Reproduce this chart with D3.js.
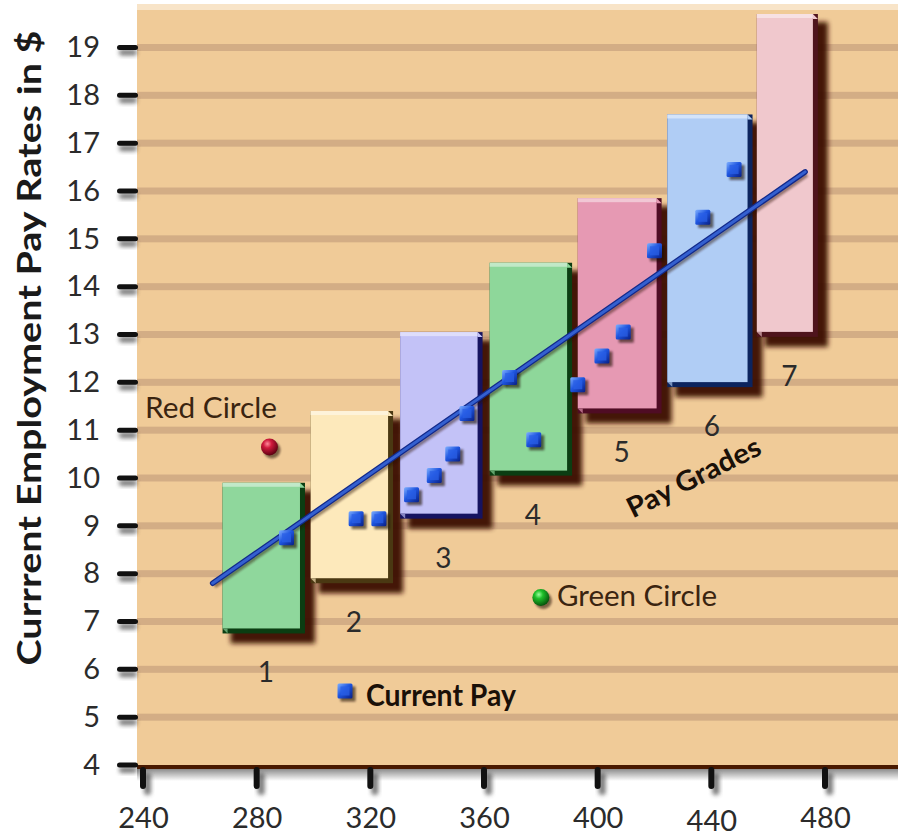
<!DOCTYPE html>
<html>
<head>
<meta charset="utf-8">
<script src="https://cdn.jsdelivr.net/npm/d3@7"></script>
<style>
  html, body { margin: 0; padding: 0; background: #ffffff; }
  svg { display: block; }
  text { font-family: Lato, "Open Sans", "Liberation Sans", sans-serif; }
</style>
</head>
<body>
<svg id="chart" width="898" height="838"></svg>
<script>
// ---- data ----
const yTicks = [4, 5, 6, 7, 8, 9, 10, 11, 12, 13, 14, 15, 16, 17, 18, 19];
const xTicks = [240, 280, 320, 360, 400, 440, 480];

const grades      = ["1", "2", "3", "4", "5", "6", "7"];
const gradeXStart = [268, 299, 330.5, 362, 393, 424.5, 456];
const gradeXEnd   = [297, 328, 359.5, 391, 422.5, 454.5, 477.5];
const gradeMin    = [6.75, 7.8, 9.15, 10.05, 11.35, 11.9, 12.95];
const gradeMax    = [9.9, 11.4, 13.05, 14.5, 15.85, 17.6, 19.7];

const payX = [290.5, 315, 323, 334.5, 342.5, 349, 354, 369, 377.5, 393, 401.5, 409, 420, 437, 448];
const payY = [8.75, 9.15, 9.15, 9.65, 10.05, 10.5, 11.35, 12.1, 10.8, 11.95, 12.55, 13.05, 14.75, 15.45, 16.45];

const trendX = [264.5, 473];
const trendY = [7.8, 16.4];

const redCircleXY   = [284.5, 10.65];
const greenCircleXY = [380, 7.5];

// ---- styles ----
const gradeFill = ["#8fd79c", "#fde9bb", "#c3c2f7", "#8ed79a", "#e699b3", "#b0cdf5", "#f0c8cd"];
const gradeEdge = ["#0b3d12", "#4a3812", "#161360", "#0b3d12", "#4f0c24", "#0c245e", "#4f141c"];

const W = 898, H = 838;
const plotLeft = 137, plotRight = 898, plotTop = 10, plotBottom = 765;

const x = d3.scaleLinear().domain([240, 480]).range([143, 825]);
const y = d3.scaleLinear().domain([4, 19]).range([765, 47.5]);

const svg = d3.select("#chart");
const defs = svg.append("defs");

function blurFilter(id, sd) {
  defs.append("filter").attr("id", id)
    .attr("x", "-50%").attr("y", "-50%").attr("width", "200%").attr("height", "200%")
    .append("feGaussianBlur").attr("stdDeviation", sd);
}
blurFilter("blurS", 1.2);
blurFilter("blurM", 2.2);
blurFilter("blurL", 2.6);

// gradient for the pay markers
const sq = defs.append("linearGradient").attr("id", "sqGrad")
  .attr("x1", "0").attr("y1", "0").attr("x2", "1").attr("y2", "1");
sq.append("stop").attr("offset", "0%").attr("stop-color", "#7fb0ff");
sq.append("stop").attr("offset", "45%").attr("stop-color", "#1f56e0");
sq.append("stop").attr("offset", "100%").attr("stop-color", "#081f86");

const red = defs.append("radialGradient").attr("id", "redGrad")
  .attr("cx", "38%").attr("cy", "32%").attr("r", "70%");
red.append("stop").attr("offset", "0%").attr("stop-color", "#ff8a9a");
red.append("stop").attr("offset", "35%").attr("stop-color", "#d01a3c");
red.append("stop").attr("offset", "100%").attr("stop-color", "#5a0010");

const green = defs.append("radialGradient").attr("id", "greenGrad")
  .attr("cx", "38%").attr("cy", "32%").attr("r", "70%");
green.append("stop").attr("offset", "0%").attr("stop-color", "#9cff9c");
green.append("stop").attr("offset", "35%").attr("stop-color", "#1fbf2a");
green.append("stop").attr("offset", "100%").attr("stop-color", "#05500a");

const bottomShade = defs.append("linearGradient").attr("id", "bottomShade")
  .attr("x1", "0").attr("y1", "0").attr("x2", "0").attr("y2", "1");
bottomShade.append("stop").attr("offset", "0%").attr("stop-color", "#000").attr("stop-opacity", 0.45);
bottomShade.append("stop").attr("offset", "100%").attr("stop-color", "#000").attr("stop-opacity", 0);

// ---- plot background ----
svg.append("rect").attr("x", plotLeft).attr("y", plotTop - 6)
  .attr("width", plotRight - plotLeft).attr("height", 6).attr("fill", "#f8e4c8");
svg.append("rect").attr("x", plotLeft).attr("y", plotTop)
  .attr("width", plotRight - plotLeft).attr("height", plotBottom - plotTop).attr("fill", "#f0cb98");

// horizontal bands at every value
svg.append("g").selectAll("rect")
  .data(yTicks.filter(v => v > 4))
  .join("rect")
  .attr("x", plotLeft).attr("width", plotRight - plotLeft)
  .attr("y", d => y(d) - 3.5).attr("height", 7)
  .attr("fill", "#d3ad85");

// bottom edge and its shade
svg.append("rect").attr("x", plotLeft).attr("y", plotBottom + 4)
  .attr("width", plotRight - plotLeft).attr("height", 12).attr("fill", "url(#bottomShade)");
svg.append("rect").attr("x", plotLeft).attr("y", plotBottom)
  .attr("width", plotRight - plotLeft).attr("height", 4).attr("fill", "#4a1a00");

// ---- tick marks ----
const yTickG = svg.append("g");
yTickG.selectAll("rect.sh").data(yTicks).join("rect").attr("class", "sh")
  .attr("x", 119).attr("y", d => y(d) + 2).attr("width", 18).attr("height", 6).attr("rx", 3)
  .attr("fill", "#444").attr("opacity", 0.7).attr("filter", "url(#blurM)");
yTickG.selectAll("rect.tk").data(yTicks).join("rect").attr("class", "tk")
  .attr("x", 117).attr("y", d => y(d) - 2.5).attr("width", 21).attr("height", 5).attr("rx", 2.5)
  .attr("fill", "#111");

const xTickG = svg.append("g");
xTickG.selectAll("rect.sh").data(xTicks).join("rect").attr("class", "sh")
  .attr("x", d => x(d) + 1).attr("y", plotBottom + 8).attr("width", 7).attr("height", 22).attr("rx", 3)
  .attr("fill", "#444").attr("opacity", 0.7).attr("filter", "url(#blurM)");
xTickG.selectAll("rect.tk").data(xTicks).join("rect").attr("class", "tk")
  .attr("x", d => x(d) - 3).attr("y", plotBottom + 2).attr("width", 6).attr("height", 22).attr("rx", 3)
  .attr("fill", "#111");

// ---- axes labels ----
const yAxis = d3.axisLeft(y).tickValues(yTicks).tickSize(0).tickPadding(37).tickFormat(d3.format("d"));
const yAxisG = svg.append("g").attr("transform", `translate(${plotLeft},0)`).call(yAxis);
yAxisG.select(".domain").remove();
yAxisG.selectAll("text").attr("font-size", 29).attr("fill", "#2b2b2b")
  .attr("font-family", "Lato, 'Open Sans', sans-serif");

const xAxis = d3.axisBottom(x).tickValues(xTicks).tickSize(0).tickPadding(42).tickFormat(d3.format("d"));
const xAxisG = svg.append("g").attr("transform", `translate(0,${plotBottom})`).call(xAxis);
xAxisG.select(".domain").remove();
xAxisG.selectAll("text").attr("font-size", 29).attr("fill", "#2b2b2b")
  .attr("font-family", "Lato, 'Open Sans', sans-serif")
  .attr("dy", d => d === 440 ? "0.82em" : "0.71em");

svg.append("text")
  .attr("transform", "translate(41,348) rotate(-90)")
  .attr("text-anchor", "middle")
  .attr("font-size", 33).attr("font-weight", "bold").attr("fill", "#1a1a1a")
  .attr("textLength", 635).attr("lengthAdjust", "spacingAndGlyphs")
  .text("Currrent Employment Pay Rates in $");

// ---- pay grade bars ----
const bev = 5;
const barData = grades.map((g, i) => ({
  g, x0: gradeXStart[i], x1: gradeXEnd[i], lo: gradeMin[i], hi: gradeMax[i],
  fill: gradeFill[i], edge: gradeEdge[i]
}));

const barG = svg.append("g");
const bars = barG.selectAll("g").data(barData).join("g");

bars.append("rect")
  .attr("x", d => x(d.x0) + 8).attr("y", d => y(d.hi) + 8)
  .attr("width", d => x(d.x1) - x(d.x0) + 2).attr("height", d => y(d.lo) - y(d.hi) + 2)
  .attr("fill", "#3a1000").attr("opacity", 0.95).attr("filter", "url(#blurL)");

bars.append("rect")
  .attr("x", d => x(d.x0)).attr("y", d => y(d.hi))
  .attr("width", d => x(d.x1) - x(d.x0)).attr("height", d => y(d.lo) - y(d.hi))
  .attr("fill", d => d.edge);

bars.append("rect")
  .attr("x", d => x(d.x0)).attr("y", d => y(d.hi))
  .attr("width", d => x(d.x1) - x(d.x0) - bev).attr("height", d => y(d.lo) - y(d.hi) - bev)
  .attr("fill", d => d.fill);

// bevelled bottom-left corner and lighter top edge
bars.append("path")
  .attr("d", d => {
    const l = x(d.x0), b = y(d.lo);
    return `M${l},${b - bev}L${l + bev},${b - bev}L${l + bev},${b}Z`;
  })
  .attr("fill", d => d3.interpolateRgb(d.fill, d.edge)(0.35));
bars.append("rect")
  .attr("x", d => x(d.x0)).attr("y", d => y(d.hi))
  .attr("width", d => x(d.x1) - x(d.x0) - bev).attr("height", 4)
  .attr("fill", d => d3.interpolateRgb(d.fill, "#ffffff")(0.45));
bars.append("path")
  .attr("d", d => {
    const r = x(d.x1), t = y(d.hi);
    return `M${r - bev},${t}L${r},${t + bev}L${r - bev},${t + bev}Z`;
  })
  .attr("fill", d => d.fill);

bars.append("text")
  .attr("x", d => (x(d.x0) + x(d.x1)) / 2 + 2)
  .attr("y", d => y(d.lo) + 49)
  .attr("text-anchor", "middle")
  .attr("font-size", 28).attr("fill", "#2b2b2b")
  .text(d => d.g);

// ---- trend line ----
const line = d3.line().x(d => x(d[0])).y(d => y(d[1]));
const trend = trendX.map((v, i) => [v, trendY[i]]);
svg.append("path").datum(trend).attr("d", line)
  .attr("transform", "translate(2,3)")
  .attr("stroke", "#2a1000").attr("stroke-width", 4).attr("opacity", 0.45)
  .attr("fill", "none").attr("filter", "url(#blurS)");
svg.append("path").datum(trend).attr("d", line)
  .attr("stroke", "#12298a").attr("stroke-width", 5.5).attr("stroke-linecap", "round").attr("fill", "none");
svg.append("path").datum(trend).attr("d", line)
  .attr("stroke", "#3460d0").attr("stroke-width", 3).attr("stroke-linecap", "round").attr("fill", "none");

// ---- current pay markers ----
const s = 15;
const pts = payX.map((v, i) => [v, payY[i]]);
function drawSquare(g, cx, cy) {
  g.append("rect").attr("x", cx - s / 2 + 3).attr("y", cy - s / 2 + 3).attr("width", s).attr("height", s)
    .attr("fill", "#1a0800").attr("opacity", 0.6).attr("filter", "url(#blurS)");
  g.append("rect").attr("x", cx - s / 2).attr("y", cy - s / 2).attr("width", s).attr("height", s)
    .attr("rx", 1.5).attr("fill", "url(#sqGrad)");
  g.append("rect").attr("x", cx - s / 2 + 3).attr("y", cy - s / 2 + 3).attr("width", s - 6).attr("height", s - 6)
    .attr("fill", "#2a5fe6").attr("opacity", 0.75);
}
const ptG = svg.append("g");
pts.forEach(p => drawSquare(ptG, x(p[0]), y(p[1])));

// ---- circles ----
function drawBall(cx, cy, grad) {
  svg.append("circle").attr("cx", cx + 2.5).attr("cy", cy + 3).attr("r", 8.5)
    .attr("fill", "#1a0800").attr("opacity", 0.55).attr("filter", "url(#blurS)");
  svg.append("circle").attr("cx", cx).attr("cy", cy).attr("r", 8.5).attr("fill", grad);
}
drawBall(x(redCircleXY[0]), y(redCircleXY[1]), "url(#redGrad)");
drawBall(x(greenCircleXY[0]), y(greenCircleXY[1]), "url(#greenGrad)");

svg.append("text").attr("x", 145).attr("y", 418)
  .attr("font-size", 28).attr("fill", "#3a2410")
  .attr("textLength", 132).attr("lengthAdjust", "spacingAndGlyphs")
  .text("Red Circle");
svg.append("text").attr("x", 557).attr("y", 606)
  .attr("font-size", 29).attr("fill", "#3a2410")
  .attr("textLength", 160).attr("lengthAdjust", "spacingAndGlyphs")
  .text("Green Circle");

// ---- legend ----
drawSquare(svg.append("g"), 345, 691);
svg.append("text").attr("x", 366).attr("y", 706)
  .attr("font-size", 31).attr("font-weight", "bold").attr("fill", "#1a1008")
  .attr("textLength", 150).attr("lengthAdjust", "spacingAndGlyphs")
  .text("Current Pay");

svg.append("text")
  .attr("transform", "translate(698,486) rotate(-26.5)")
  .attr("text-anchor", "middle")
  .attr("font-size", 28).attr("font-weight", "bold").attr("fill", "#1a1008")
  .attr("textLength", 146).attr("lengthAdjust", "spacingAndGlyphs")
  .text("Pay Grades");
</script>
</body>
</html>
